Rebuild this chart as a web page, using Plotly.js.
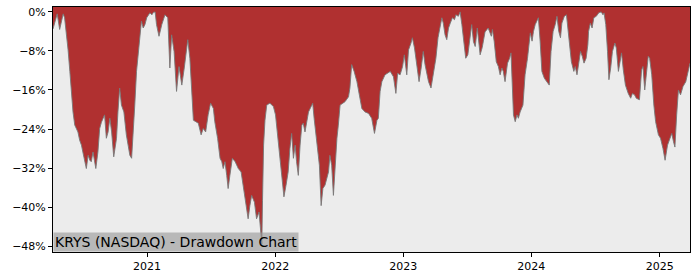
<!DOCTYPE html>
<html>
<head>
<meta charset="utf-8">
<script src="https://cdn.plot.ly/plotly-3.0.1.min.js"></script>
<style>html,body{margin:0;padding:0;background:#fff;}#chart{width:700px;height:280px;}</style>
</head>
<body>
<div id="chart"></div>
<script>
const dates = [
"2020-04-08","2020-04-14","2020-04-20","2020-04-27","2020-05-03","2020-05-07","2020-05-11","2020-05-16","2020-05-21","2020-05-26",
"2020-05-30","2020-06-04","2020-06-09","2020-06-18","2020-06-23","2020-06-28","2020-07-02","2020-07-07","2020-07-12","2020-07-17",
"2020-07-22","2020-07-26","2020-07-31","2020-08-04","2020-08-08","2020-08-14","2020-08-19","2020-08-24","2020-08-29","2020-09-02",
"2020-09-07","2020-09-12","2020-09-17","2020-09-22","2020-09-28","2020-10-06","2020-10-10","2020-10-15","2020-10-20","2020-10-27",
"2020-11-03","2020-11-09","2020-11-13","2020-11-18","2020-11-22","2020-11-27","2020-12-02","2020-12-07","2020-12-12","2020-12-16",
"2020-12-21","2020-12-26","2020-12-31",
"2021-01-05","2021-01-09","2021-01-15","2021-01-19","2021-01-24","2021-01-28","2021-02-04","2021-02-12","2021-02-21","2021-03-01",
"2021-03-07","2021-03-12","2021-03-19","2021-03-26","2021-04-02","2021-04-10","2021-04-17","2021-04-22","2021-04-27","2021-05-03",
"2021-05-10","2021-05-13","2021-05-20","2021-05-27","2021-06-04","2021-06-10","2021-06-17","2021-06-24","2021-07-01","2021-07-09",
"2021-07-13","2021-07-21","2021-07-28","2021-08-02","2021-08-06","2021-08-11","2021-08-16","2021-08-20","2021-08-25","2021-09-01",
"2021-09-09","2021-09-18","2021-09-26","2021-10-02","2021-10-09","2021-10-16","2021-10-21","2021-10-26","2021-11-03","2021-11-09",
"2021-11-16","2021-11-22","2021-11-24","2021-11-26","2021-11-29","2021-12-03","2021-12-08","2021-12-17","2021-12-27",
"2022-01-02","2022-01-06","2022-01-10","2022-01-15","2022-01-20","2022-01-26","2022-02-01","2022-02-07","2022-02-12","2022-02-17",
"2022-02-22","2022-02-27","2022-03-03","2022-03-08","2022-03-13","2022-03-18","2022-03-22","2022-03-27","2022-04-06","2022-04-10",
"2022-04-18","2022-04-22","2022-04-29","2022-05-07","2022-05-12","2022-05-17","2022-05-23","2022-06-02","2022-06-06","2022-06-11",
"2022-06-16","2022-06-21","2022-06-26","2022-06-30","2022-07-05","2022-07-13","2022-07-19","2022-07-29","2022-08-02","2022-08-07",
"2022-08-14","2022-08-22","2022-08-29","2022-09-05","2022-09-14","2022-09-24","2022-10-03","2022-10-11","2022-10-18","2022-10-22",
"2022-10-27","2022-11-01","2022-11-10","2022-11-25","2022-12-04","2022-12-11","2022-12-16","2022-12-23","2022-12-30",
"2023-01-04","2023-01-11","2023-01-16","2023-01-23","2023-01-27","2023-02-02","2023-02-09","2023-02-15","2023-02-21","2023-02-27",
"2023-03-04","2023-03-14","2023-03-21","2023-03-28","2023-04-04","2023-04-10","2023-04-16","2023-04-21","2023-04-25","2023-04-30",
"2023-05-05","2023-05-10","2023-05-15","2023-05-21","2023-05-27","2023-05-31","2023-06-07","2023-06-12","2023-06-17","2023-06-22",
"2023-06-28","2023-07-04","2023-07-11","2023-07-15","2023-07-20","2023-07-25","2023-07-31","2023-08-08","2023-08-14","2023-08-22",
"2023-08-31","2023-09-09","2023-09-12","2023-09-17","2023-09-23","2023-09-29","2023-10-04","2023-10-09","2023-10-13","2023-10-18",
"2023-10-25","2023-10-31","2023-11-04","2023-11-07","2023-11-11","2023-11-16","2023-11-21","2023-11-25","2023-11-30","2023-12-08",
"2023-12-14","2023-12-21","2023-12-29",
"2024-01-03","2024-01-07","2024-01-12","2024-01-17","2024-01-21","2024-01-26","2024-01-31","2024-02-07","2024-02-14","2024-02-21",
"2024-02-26","2024-03-03","2024-03-09","2024-03-14","2024-03-19","2024-03-24","2024-03-28","2024-04-04","2024-04-10","2024-04-13",
"2024-04-19","2024-04-24","2024-05-01","2024-05-05","2024-05-10","2024-05-15","2024-05-20","2024-05-25","2024-05-30","2024-06-05",
"2024-06-10","2024-06-12","2024-06-17","2024-06-22","2024-06-27","2024-07-04","2024-07-11","2024-07-18","2024-07-23","2024-07-26",
"2024-07-31","2024-08-05","2024-08-09","2024-08-14","2024-08-19","2024-08-26","2024-08-30","2024-09-05","2024-09-09","2024-09-14",
"2024-09-19","2024-09-25","2024-10-03","2024-10-10","2024-10-15","2024-10-21","2024-10-26","2024-11-01","2024-11-04","2024-11-10",
"2024-11-14","2024-11-19","2024-11-24","2024-11-29","2024-12-03","2024-12-09","2024-12-15","2024-12-20","2024-12-28",
"2025-01-03","2025-01-10","2025-01-16","2025-01-23","2025-01-29","2025-02-04","2025-02-09","2025-02-13","2025-02-18","2025-02-23",
"2025-03-01","2025-03-08","2025-03-16","2025-03-23","2025-03-28"
];
const drawdown = [
-3.5,-1.6,-0.4,-3.6,-1.6,-0.4,-1.2,-4.0,-7.8,-12.2,
-17.0,-20.5,-23.2,-24.6,-26.3,-27.3,-28.7,-30.4,-32.1,-29.4,
-30.4,-30.7,-28.7,-30.4,-32.1,-28.7,-23.9,-22.6,-21.8,-21.1,
-25.9,-24.6,-21.8,-24.6,-29.7,-25.9,-20.5,-15.6,-19.1,-20.5,
-25.2,-27.9,-29.4,-30.0,-25.9,-19.1,-12.2,-8.1,-4.7,-1.9,
-3.3,-2.6,-1.2,
-0.6,-0.2,-0.6,-0.1,0.0,-2.6,-5.0,-2.6,-0.6,-1.2,
-11.5,-4.7,-8.1,-16.3,-11.2,-15.0,-11.5,-7.8,-5.7,-9.5,
-18.4,-22.2,-22.5,-22.8,-25.2,-23.9,-24.6,-21.1,-18.7,-19.8,
-22.5,-25.9,-30.0,-30.7,-32.1,-30.7,-33.5,-36.2,-33.5,-30.0,
-30.7,-32.1,-32.8,-35.5,-39.0,-42.4,-39.7,-37.6,-39.0,-42.4,
-41.0,-45.1,-47.6,-38.6,-27.3,-22.2,-19.1,-18.7,-19.4,
-21.1,-23.9,-26.6,-30.0,-34.2,-37.9,-35.5,-32.8,-28.0,-24.9,
-30.0,-27.3,-30.7,-33.5,-27.3,-23.2,-22.8,-24.6,-20.5,-19.8,
-18.7,-21.8,-25.9,-31.4,-39.7,-36.2,-35.5,-32.8,-29.4,-31.4,
-37.6,-30.7,-25.9,-23.2,-19.1,-18.7,-18.4,-17.4,-15.6,-10.8,
-12.2,-14.3,-17.0,-19.8,-20.5,-20.8,-21.8,-24.9,-22.2,-21.8,
-16.3,-14.3,-12.9,-12.2,-13.3,-16.7,-12.6,-12.9,-11.2,
-8.8,-12.9,-7.8,-6.4,-5.3,-7.4,-10.8,-14.3,-11.5,-8.1,
-10.8,-14.3,-15.6,-12.2,-9.5,-5.3,-3.3,-1.2,-2.3,-4.7,
-5.7,-3.3,-2.3,-1.2,-1.6,-0.6,-0.9,0.0,-2.6,-5.3,
-9.5,-8.8,-5.3,-2.6,-6.1,-7.1,-3.3,-8.8,-7.3,-4.1,
-3.3,-5.0,-3.6,-6.0,-10.2,-11.2,-12.9,-11.5,-12.2,-14.3,
-10.5,-9.5,-8.4,-15.6,-21.1,-22.5,-21.1,-21.8,-20.5,-19.1,
-12.9,-9.5,-4.3,
-6.0,-4.0,-2.6,-1.9,-1.2,-6.0,-12.2,-13.6,-14.3,-15.0,
-8.1,-4.0,-2.6,-0.9,-4.0,-5.3,-2.3,-0.9,-0.6,-2.6,
-7.4,-10.2,-12.2,-11.2,-12.9,-10.2,-8.1,-9.1,-10.5,-9.5,
-6.7,-4.0,-2.3,-3.3,-1.2,-0.9,-0.2,0.0,-0.6,-0.2,
-2.6,-8.1,-13.9,-11.5,-8.1,-6.4,-7.4,-12.2,-10.2,-8.4,
-11.9,-15.0,-16.7,-17.7,-16.7,-17.0,-17.7,-18.0,-18.0,-11.9,
-11.2,-16.0,-12.2,-9.1,-9.5,-12.9,-19.1,-22.5,-25.2,
-25.9,-28.0,-30.4,-27.3,-25.9,-24.9,-26.6,-27.7,-21.1,-16.0,
-17.0,-15.3,-14.3,-11.9,-10.5
];
const yTickVals = [0, -8, -16, -24, -32, -40, -48];
const yTickText = ["0%", "\u22128%", "\u221216%", "\u221224%", "\u221232%", "\u221240%", "\u221248%"];
const xTickVals = ["2021-01-01", "2022-01-01", "2023-01-01", "2024-01-01", "2025-01-01"];
const xTickText = ["2021", "2022", "2023", "2024", "2025"];
const chartLabel = "KRYS (NASDAQ) - Drawdown Chart";

const ceiling = dates.map(() => 5);

const traces = [
  {x: dates, y: ceiling, type: "scatter", mode: "lines", line: {width: 0, color: "rgba(0,0,0,0)"}, hoverinfo: "skip", showlegend: false},
  {x: dates, y: drawdown, type: "scatter", mode: "lines", fill: "tonexty", fillcolor: "#b03030",
   line: {color: "rgba(120,120,120,0.9)", width: 1}, showlegend: false}
];

const layout = {
  width: 700, height: 280,
  margin: {l: 53, r: 10, t: 7, b: 28},
  paper_bgcolor: "#ffffff",
  plot_bgcolor: "#ececec",
  font: {family: "DejaVu Sans", size: 11, color: "#000"},
  showlegend: false,
  xaxis: {
    type: "date",
    range: [dates[0], dates[dates.length - 1]],
    tickvals: xTickVals, ticktext: xTickText,
    ticks: "outside", ticklen: 4, tickcolor: "#000", tickwidth: 1,
    showgrid: false, zeroline: false,
    showline: true, linecolor: "#000", linewidth: 1, mirror: true,
    tickfont: {family: "DejaVu Sans", size: 11, color: "#000"}
  },
  yaxis: {
    range: [-49.2, 1.0],
    tickvals: yTickVals, ticktext: yTickText,
    ticks: "outside", ticklen: 4, tickcolor: "#000", tickwidth: 1,
    showgrid: false, zeroline: false,
    showline: true, linecolor: "#000", linewidth: 1, mirror: true,
    tickfont: {family: "DejaVu Sans", size: 11, color: "#000"}
  },
  annotations: [{
    text: chartLabel, xref: "paper", yref: "paper", x: 0, y: 0,
    xanchor: "left", yanchor: "bottom", showarrow: false,
    font: {family: "DejaVu Sans", size: 14, color: "#000"},
    bgcolor: "rgba(150,150,150,0.6)", borderpad: 1
  }]
};

Plotly.newPlot("chart", traces, layout, {displayModeBar: false, staticPlot: true});
</script>
</body>
</html>
